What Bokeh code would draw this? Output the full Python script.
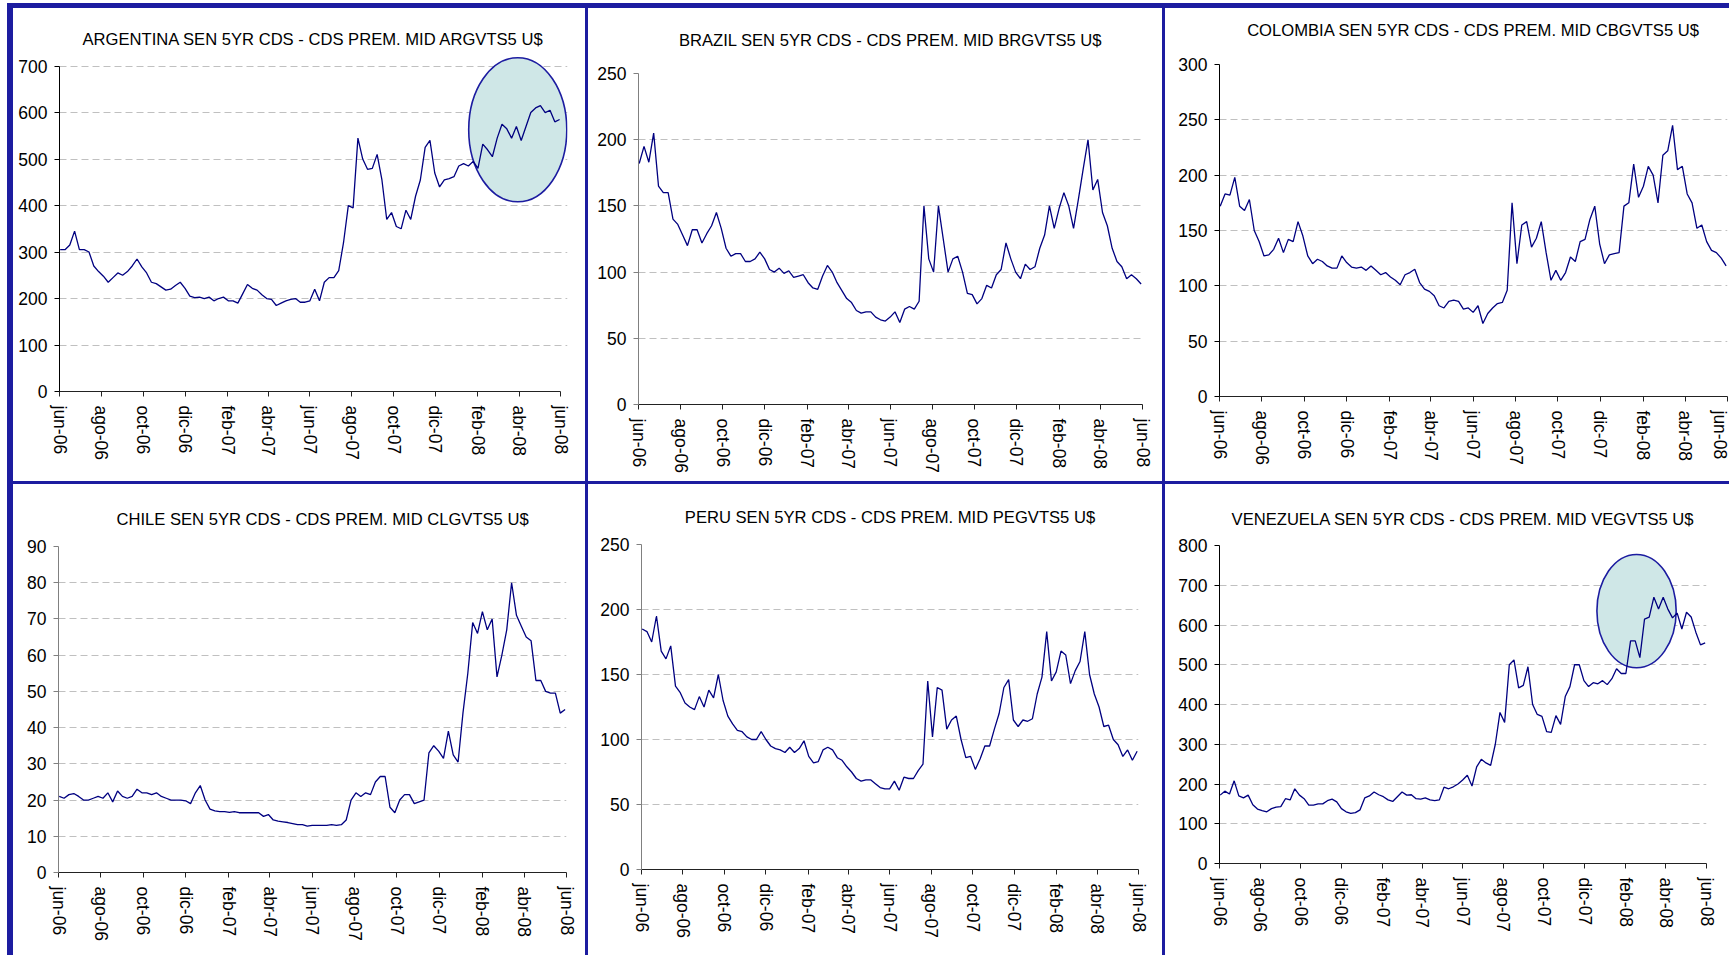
from datetime import datetime

import pandas as pd
from bokeh.embed import file_html
from bokeh.layouts import column, row
from bokeh.models import ColumnDataSource, Div, FixedTicker, Range1d, Spacer, Title
from bokeh.plotting import figure
from bokeh.resources import INLINE

# Weekly observations (Fridays), June 2006 - May 2008
WEEKS = pd.date_range("2006-06-02", "2008-05-30", freq="W-FRI")

TICK_DATES = ["2006-06-01", "2006-08-01", "2006-10-01", "2006-12-01", "2007-02-01",
              "2007-04-01", "2007-06-01", "2007-08-01", "2007-10-01", "2007-12-01",
              "2008-02-01", "2008-04-01", "2008-06-01"]
TICK_LABELS = ["jun-06", "ago-06", "oct-06", "dic-06", "feb-07", "abr-07", "jun-07",
               "ago-07", "oct-07", "dic-07", "feb-08", "abr-08", "jun-08"]

ARGENTINA = [305, 305, 315, 345, 305, 305, 300, 270, 258, 248,
             235, 245, 255, 250, 258, 270, 285, 268, 255, 235,
             232, 225, 218, 220, 228, 235, 222, 205, 202, 203,
             200, 203, 195, 200, 203, 195, 195, 190, 210, 230,
             222, 218, 208, 200, 198, 185, 190, 195, 198, 200,
             192, 192, 195, 220, 195, 235, 245, 245, 260, 320,
             400, 395, 545, 500, 478, 480, 510, 455, 370, 385,
             355, 350, 390, 370, 420, 455, 525, 540, 470, 440,
             455, 458, 462, 485, 490, 485, 495, 480, 532, 520,
             505, 545, 575, 565, 545, 570, 540, 570, 600, 610,
             615, 600, 605, 580, 585]

BRAZIL = [182, 195, 183, 205, 165, 160, 160, 140, 136, 128,
          120, 132, 132, 122, 129, 135, 145, 133, 118, 112,
          114, 114, 108, 108, 110, 115, 110, 102, 100, 103,
          99, 101, 96, 97, 98, 92, 88, 87, 97, 105,
          100, 92, 86, 80, 77, 71, 69, 70, 70, 66,
          64, 63, 66, 70, 62, 72, 74, 72, 78, 150,
          110, 100, 150, 125, 100, 110, 112, 100, 84, 83,
          76, 80, 90, 88, 98, 102, 122, 110, 100, 95,
          106, 102, 104, 118, 128, 150, 133, 148, 160, 150,
          133, 155, 178, 200, 162, 170, 145, 135, 118, 108,
          104, 95, 98, 95, 91]

COLOMBIA = [172, 183, 182, 198, 172, 168, 178, 150, 140, 127,
            128, 133, 143, 130, 142, 140, 158, 145, 127, 120,
            124, 122, 118, 116, 116, 127, 121, 117, 116, 117,
            114, 118, 114, 110, 112, 108, 105, 101, 110, 112,
            115, 103, 97, 95, 91, 82, 80, 86, 87, 86,
            79, 80, 76, 82, 66, 75, 80, 84, 85, 96,
            175, 120, 155, 158, 135, 143, 158, 130, 105, 114,
            105, 112, 126, 122, 140, 142, 160, 172, 138, 120,
            128, 129, 130, 172, 175, 210, 180, 190, 208, 200,
            175, 218, 222, 245, 205, 208, 183, 175, 152, 155,
            140, 132, 130, 125, 118]

CHILE = [21, 20.5, 21.5, 21.8, 21, 20, 20, 20.5, 21, 20.5,
         22, 19.5, 22.5, 21, 20.5, 21, 23, 22, 22, 21.5,
         22, 21, 20.5, 20, 20, 20, 19.8, 19, 22, 24,
         20, 17.5, 17, 16.8, 16.8, 16.6, 16.8, 16.5, 16.5, 16.5,
         16.5, 16.5, 15.5, 16, 14.5, 14.2, 14, 13.8, 13.5, 13.2,
         13.2, 12.8, 13, 13, 13, 13, 13.2, 13, 13.2, 14.5,
         20, 22, 21, 22, 21.5, 25, 26.5, 26.5, 18, 16.5,
         20, 21.5, 21.5, 19, 19.5, 20, 33, 35, 33.5, 31.5,
         39, 32.5, 30.5, 44, 55, 69, 66, 72, 67, 70,
         54, 60, 67, 80, 71, 68, 65, 64, 53, 53,
         50, 49.5, 49.5, 44, 45]

PERU = [185, 183, 175, 195, 168, 162, 172, 141, 136, 128,
        125, 123, 133, 125, 138, 132, 150, 130, 118, 112,
        107, 106, 102, 100, 100, 106, 100, 95, 93, 92,
        90, 94, 90, 93, 99, 87, 82, 83, 92, 94,
        92, 86, 84, 79, 75, 70, 68, 69, 69, 66,
        63, 62, 62, 68, 61, 71, 70, 70, 76, 81,
        145, 102, 140, 138, 108, 115, 118, 100, 86, 87,
        77, 85, 95, 95, 108, 120, 140, 146, 115, 110,
        115, 114, 116, 135, 148, 183, 145, 152, 168, 165,
        143, 153, 160, 183, 150, 135, 125, 110, 111, 100,
        96, 87, 92, 84, 91]

VENEZUELA = [172, 182, 175, 208, 170, 165, 172, 148, 137, 133,
             130, 138, 142, 143, 163, 160, 188, 172, 163, 147,
             147, 150, 150, 158, 162, 155, 138, 130, 126, 128,
             135, 165, 170, 180, 173, 168, 160, 156, 168, 180,
             172, 173, 163, 162, 165, 160, 158, 160, 192, 188,
             193, 200, 210, 222, 195, 243, 262, 253, 247, 300,
             380, 355, 500, 512, 442, 448, 495, 400, 375, 370,
             332, 330, 372, 350, 420, 445, 500, 500, 460, 445,
             455, 452, 460, 450, 465, 490, 478, 478, 560, 560,
             518, 615, 620, 670, 640, 670, 640, 618, 630, 590,
             632, 620, 582, 550, 555]

# Highlighted regions: (centre date, centre value, width in days, height in value units)
ARGENTINA_FOCUS = ("2008-03-30", 563, 143, 310)
VENEZUELA_FOCUS = ("2008-02-17", 635, 119, 285)

NAVY = "#1c1ca0"
LINE = "#000080"
FONT = "Liberation Sans"
DAY_MS = 86400000.0
X_START, X_END = "2006-06-01", "2008-06-01"


def ms(d):
    return pd.Timestamp(d).value / 1e6


def panel(title, values, ymax, ystep, geom, axis_color, title_gap, focus=None,
          view=None, lift=None, title_left=None):
    """One CDS chart. `view` optionally widens the visible window (x end, y end)
    so that the highlight ring fits while the axes keep their own bounds;
    `lift` inserts blank space between the plot area and the title."""
    left, fw, right, top, fh, bottom = geom
    x_end, y_end = view if view else (X_END, ymax)
    p = figure(width=left + fw + right, height=top + fh + bottom,
               x_axis_type="datetime",
               x_range=Range1d(pd.Timestamp(X_START).to_pydatetime(),
                               pd.Timestamp(x_end).to_pydatetime()),
               y_range=Range1d(0, y_end),
               min_border_left=left, min_border_right=right,
               min_border_top=top, min_border_bottom=bottom,
               output_backend="svg", toolbar_location=None)
    p.frame_align = False
    p.outline_line_color = None
    p.background_fill_color = "white"
    p.border_fill_color = "white"

    if lift is not None:
        p.add_layout(Title(text=" ", text_font_size="1px", standoff=lift), "above")

    p.title.text = title
    p.title.text_font = FONT
    p.title.text_font_size = "16.6px"
    p.title.text_font_style = "normal"
    p.title.text_color = "#000000"
    p.title.standoff = title_gap
    if title_left is None:
        p.title.align = "center"
    else:
        p.title.align = "left"
        p.title.offset = title_left

    p.xgrid.visible = False
    p.ygrid.grid_line_color = "#c0c0c0"
    p.ygrid.grid_line_dash = "7 4"
    p.ygrid.grid_line_width = 1

    ticks = [ms(d) for d in TICK_DATES]
    p.xaxis.ticker = FixedTicker(ticks=ticks)
    p.xaxis.major_label_overrides = dict(zip(ticks, TICK_LABELS))
    p.xaxis.major_label_orientation = "vertical"
    p.xaxis.bounds = (ms(X_START), ms(X_END))
    p.yaxis.ticker = FixedTicker(ticks=list(range(0, ymax + 1, ystep)))
    p.yaxis.bounds = (0, ymax)

    for ax in (p.xaxis[0], p.yaxis[0]):
        ax.major_label_text_font = FONT
        ax.major_label_text_font_size = "17.5px"
        ax.major_label_text_color = "#000000"
        ax.major_tick_in = 0
        ax.major_tick_out = 5
        ax.minor_tick_line_color = None
    p.xaxis.major_label_standoff = 9
    p.yaxis.major_label_standoff = 7
    p.xaxis.axis_line_color = "#222222"
    p.xaxis.major_tick_line_color = "#222222"
    p.yaxis.axis_line_color = axis_color
    p.yaxis.major_tick_line_color = axis_color

    if focus is not None:
        c_date, c_val, w_days, h_val = focus
        p.ellipse(x=[ms(c_date)], y=[c_val], width=[w_days * DAY_MS], height=[h_val],
                  fill_color="#cfe7e7", line_color=NAVY, line_width=1.6)

    src = ColumnDataSource(dict(date=WEEKS, v=values))
    p.line(x="date", y="v", source=src, line_color=LINE, line_width=1.3)
    return p


p1 = panel("ARGENTINA SEN 5YR CDS - CDS PREM. MID ARGVTS5 U$", ARGENTINA, 700, 100,
           (46, 508, 18, 48, 335, 90), "#000000", 16, ARGENTINA_FOCUS,
           view=("2008-06-10 12:00", 720.6))
p2 = panel("BRAZIL SEN 5YR CDS - CDS PREM. MID BRGVTS5 U$", BRAZIL, 250, 50,
           (50, 504, 20, 65, 331, 77), "#808080", 0, lift=21)
p3 = panel("COLOMBIA SEN 5YR CDS - CDS PREM. MID CBGVTS5 U$", COLOMBIA, 300, 50,
           (54, 508, 2, 56, 332, 85), "#000000", 0, lift=21.8)
p4 = panel("CHILE SEN 5YR CDS - CDS PREM. MID CLGVTS5 U$", CHILE, 90, 10,
           (45, 508, 19, 62, 326, 83), "#808080", 36, title_left=58)
p5 = panel("PERU SEN 5YR CDS - CDS PREM. MID PEGVTS5 U$", PERU, 250, 50,
           (53, 497, 24, 60, 325, 86), "#808080", 35.2)
p6 = panel("VENEZUELA SEN 5YR CDS - CDS PREM. MID VEGVTS5 U$", VENEZUELA, 800, 100,
           (54, 487, 23, 61, 318, 92), "#000000", 34, VENEZUELA_FOCUS)


def bar(w, h):
    return Div(text="", width=w, height=h, margin=0,
               styles={"background-color": NAVY})


grid = column(
    row(p1, bar(3, 473), p2, bar(3, 473), p3, spacing=0),
    bar(1716, 3),
    row(p4, bar(3, 471), p5, bar(3, 471), p6, spacing=0),
    spacing=0,
)

layout = column(
    Spacer(width=1729, height=3, margin=0),
    row(Spacer(width=7, height=5, margin=0), bar(1722, 5), spacing=0),
    row(Spacer(width=7, height=947, margin=0), bar(6, 947), grid, spacing=0),
    spacing=0,
)

open("out.html", "w").write(file_html(layout, INLINE))
